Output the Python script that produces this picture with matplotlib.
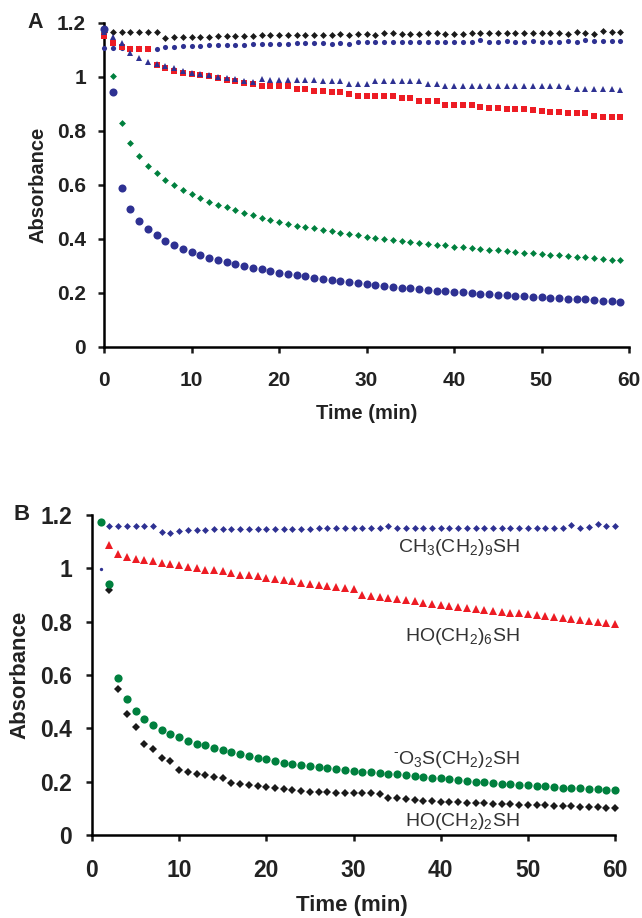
import numpy as np
import matplotlib
matplotlib.use("Agg")
import matplotlib.pyplot as plt

# ── data ──
time_a = list(range(0, 60))
time_b = list(range(1, 61))

# panel A
a_black = [1.168, 1.168, 1.168, 1.168, 1.168, 1.168, 1.168, 1.146, 1.147, 1.148,
           1.148, 1.150, 1.150, 1.151, 1.152, 1.152, 1.153, 1.153, 1.154, 1.154,
           1.155, 1.155, 1.155, 1.156, 1.156, 1.157, 1.157, 1.158, 1.157, 1.158,
           1.158, 1.157, 1.162, 1.162, 1.160, 1.160, 1.160, 1.162, 1.162, 1.160,
           1.160, 1.158, 1.163, 1.162, 1.162, 1.163, 1.162, 1.163, 1.162, 1.162,
           1.163, 1.162, 1.162, 1.160, 1.168, 1.162, 1.160, 1.172, 1.165, 1.165]
a_dots = [1.106, 1.106, 1.108, 1.106, 1.106, 1.105, 1.104, 1.110, 1.112, 1.114,
          1.115, 1.116, 1.117, 1.118, 1.119, 1.120, 1.120, 1.121, 1.122, 1.123,
          1.124, 1.124, 1.125, 1.125, 1.126, 1.126, 1.124, 1.126, 1.123, 1.128,
          1.128, 1.128, 1.129, 1.128, 1.128, 1.129, 1.128, 1.128, 1.129, 1.128,
          1.129, 1.129, 1.129, 1.136, 1.130, 1.129, 1.132, 1.130, 1.130, 1.132,
          1.131, 1.130, 1.131, 1.132, 1.130, 1.136, 1.134, 1.133, 1.134, 1.133]
a_red = [1.152, 1.125, 1.110, 1.105, 1.105, 1.102, 1.044, 1.032, 1.022, 1.016,
         1.010, 1.007, 1.004, 0.995, 0.989, 0.984, 0.979, 0.973, 0.967, 0.966,
         0.966, 0.965, 0.954, 0.954, 0.948, 0.949, 0.946, 0.944, 0.937, 0.930,
         0.930, 0.929, 0.929, 0.929, 0.922, 0.922, 0.911, 0.911, 0.911, 0.896,
         0.896, 0.895, 0.895, 0.888, 0.886, 0.885, 0.883, 0.882, 0.880, 0.878,
         0.874, 0.871, 0.869, 0.866, 0.866, 0.866, 0.856, 0.852, 0.852, 0.852]
a_tri = [1.165, 1.149, 1.127, 1.088, 1.072, 1.057, 1.047, 1.041, 1.032, 1.022,
         1.014, 1.010, 1.007, 1.001, 0.995, 0.992, 0.985, 0.983, 0.992, 0.989,
         0.989, 0.989, 0.989, 0.989, 0.988, 0.985, 0.985, 0.985, 0.975, 0.975,
         0.975, 0.986, 0.985, 0.985, 0.985, 0.985, 0.985, 0.975, 0.975, 0.968,
         0.966, 0.966, 0.966, 0.966, 0.968, 0.966, 0.966, 0.966, 0.966, 0.966,
         0.966, 0.966, 0.965, 0.962, 0.955, 0.955, 0.955, 0.955, 0.955, 0.953]
a_green = [np.nan, 1.004, 0.828, 0.754, 0.707, 0.672, 0.643, 0.619, 0.600, 0.581,
           0.567, 0.551, 0.538, 0.527, 0.517, 0.506, 0.497, 0.489, 0.479, 0.472,
           0.464, 0.457, 0.450, 0.445, 0.439, 0.434, 0.429, 0.424, 0.419, 0.414,
           0.409, 0.405, 0.401, 0.397, 0.393, 0.389, 0.386, 0.382, 0.379, 0.376,
           0.372, 0.369, 0.366, 0.363, 0.360, 0.358, 0.355, 0.352, 0.349, 0.347,
           0.344, 0.342, 0.339, 0.337, 0.334, 0.332, 0.329, 0.327, 0.324, 0.322]
a_big = [1.177, 0.943, 0.590, 0.510, 0.467, 0.436, 0.414, 0.394, 0.378, 0.364,
         0.352, 0.340, 0.331, 0.322, 0.315, 0.306, 0.300, 0.294, 0.288, 0.281,
         0.275, 0.270, 0.265, 0.262, 0.256, 0.251, 0.248, 0.244, 0.240, 0.236,
         0.232, 0.229, 0.226, 0.223, 0.220, 0.217, 0.214, 0.212, 0.209, 0.206,
         0.204, 0.202, 0.200, 0.198, 0.196, 0.194, 0.192, 0.190, 0.188, 0.186,
         0.184, 0.182, 0.181, 0.179, 0.177, 0.176, 0.174, 0.172, 0.170, 0.168]

# panel B
b_decyl = [0.998, 1.160, 1.160, 1.160, 1.160, 1.160, 1.160, 1.138, 1.134, 1.140,
           1.144, 1.145, 1.145, 1.146, 1.146, 1.146, 1.147, 1.147, 1.147, 1.148,
           1.148, 1.148, 1.149, 1.149, 1.149, 1.150, 1.150, 1.150, 1.150, 1.150,
           1.151, 1.151, 1.152, 1.160, 1.152, 1.151, 1.152, 1.151, 1.152, 1.151,
           1.152, 1.151, 1.152, 1.151, 1.152, 1.152, 1.151, 1.152, 1.152, 1.152,
           1.152, 1.153, 1.152, 1.153, 1.162, 1.153, 1.154, 1.168, 1.157, 1.157]
b_hexanol = [np.nan, 1.088, 1.053, 1.041, 1.036, 1.030, 1.026, 1.019, 1.016, 1.011,
             1.005, 1.001, 0.995, 0.993, 0.989, 0.982, 0.976, 0.974, 0.970, 0.964,
             0.960, 0.955, 0.951, 0.945, 0.943, 0.937, 0.935, 0.929, 0.927, 0.922,
             0.899, 0.895, 0.891, 0.888, 0.884, 0.880, 0.876, 0.871, 0.867, 0.863,
             0.858, 0.854, 0.850, 0.846, 0.843, 0.840, 0.837, 0.834, 0.831, 0.827,
             0.824, 0.820, 0.817, 0.813, 0.810, 0.806, 0.803, 0.799, 0.796, 0.792]
b_sulfonate = [1.175, 0.941, 0.588, 0.509, 0.466, 0.435, 0.414, 0.394, 0.379, 0.367,
               0.354, 0.342, 0.336, 0.326, 0.317, 0.311, 0.302, 0.295, 0.290, 0.284,
               0.277, 0.271, 0.268, 0.264, 0.260, 0.256, 0.252, 0.248, 0.245, 0.241,
               0.238, 0.235, 0.232, 0.229, 0.227, 0.224, 0.221, 0.218, 0.215, 0.212,
               0.209, 0.206, 0.203, 0.200, 0.198, 0.196, 0.193, 0.191, 0.189, 0.186,
               0.184, 0.182, 0.180, 0.178, 0.176, 0.175, 0.173, 0.171, 0.170, 0.168]
b_ethanol = [np.nan, 0.918, 0.547, 0.454, 0.404, 0.342, 0.324, 0.290, 0.276, 0.245,
             0.236, 0.230, 0.224, 0.218, 0.212, 0.195, 0.193, 0.189, 0.184, 0.180,
             0.177, 0.172, 0.168, 0.165, 0.163, 0.162, 0.160, 0.159, 0.158, 0.157,
             0.157, 0.156, 0.155, 0.140, 0.137, 0.134, 0.131, 0.129, 0.127, 0.125,
             0.123, 0.122, 0.121, 0.120, 0.119, 0.118, 0.116, 0.115, 0.114, 0.113,
             0.112, 0.111, 0.110, 0.109, 0.108, 0.106, 0.105, 0.104, 0.102, 0.100]

b_labels = [r"CH$_\mathregular{3}$(CH$_\mathregular{2}$)$_\mathregular{9}$SH",
            r"HO(CH$_\mathregular{2}$)$_\mathregular{6}$SH",
            r"$^{\text{-}}$O$_\mathregular{3}$S(CH$_\mathregular{2}$)$_\mathregular{2}$SH",
            r"HO(CH$_\mathregular{2}$)$_\mathregular{2}$SH"]
b_label_y = [1.062, 0.728, 0.266, 0.035]

x_ticks = [0, 10, 20, 30, 40, 50, 60]
y_ticks = [0, 0.2, 0.4, 0.6, 0.8, 1.0, 1.2]
y_tick_labels = ["0", "0.2", "0.4", "0.6", "0.8", "1", "1.2"]

NAVY, RED, GREEN, BLACK = "#2e3192", "#ed1c24", "#00803e", "#1a1a1a"

plt.rcParams.update({
    "font.family": ["Liberation Sans", "DejaVu Sans"],
    "mathtext.fontset": "custom",
    "mathtext.rm": "Liberation Sans",
    "axes.linewidth": 1.8,
})


def style_axes(ax, fs, ypad, xpad):
    ax.set_xlim(0, 60)
    ax.set_ylim(0, 1.2)
    ax.spines["top"].set_visible(False)
    ax.spines["right"].set_visible(False)
    ax.set_xticks(x_ticks)
    ax.set_yticks(y_ticks)
    ax.set_yticklabels(y_tick_labels)
    ax.tick_params(direction="out", length=4.5, width=1.8, color=BLACK)
    ax.tick_params(axis="y", pad=ypad)
    ax.tick_params(axis="x", pad=xpad)
    for lab in ax.get_xticklabels() + ax.get_yticklabels():
        lab.set_fontsize(fs)
        lab.set_fontweight("bold")
        lab.set_color("#222222")


def pts(ax, x, y, marker, color, ms, z=3):
    ax.plot(x, y, linestyle="none", marker=marker, color=color, markersize=ms,
            markeredgewidth=0, clip_on=False, zorder=z)


fig = plt.figure(figsize=(6.42, 9.18), dpi=100)

# ── panel A ──
ax = fig.add_axes([104 / 642, 1 - 347 / 918, 525 / 642, 324 / 918])
style_axes(ax, 15, 8.5, 13)
pts(ax, time_a, a_black, "D", BLACK, 3.5)
pts(ax, time_a, a_dots, "o", NAVY, 3.7)
pts(ax, time_a, a_red, "s", RED, 3.9)
pts(ax, time_a, a_tri, "^", NAVY, 5.0)
pts(ax, time_a, a_green, "D", GREEN, 3.5)
pts(ax, time_a, a_big, "o", NAVY, 5.8)
ax.set_ylabel("Absorbance", fontsize=14.5, fontweight="bold", color="#222222")
ax.set_xlabel("Time (min)", fontsize=14.5, fontweight="bold", color="#222222")
ax.yaxis.set_label_coords(-0.1257, 0.5)
ax.xaxis.set_label_coords(0.501, -0.204)
ax.yaxis.label.set_va("center")
ax.xaxis.label.set_va("center")
fig.text(35 / 642, 1 - 22 / 918, "A", fontsize=15.5, fontweight="bold",
         ha="center", va="center", color="#222222")

# ── panel B ──
bx = fig.add_axes([92 / 642, 1 - 835 / 918, 523 / 642, 320 / 918])
style_axes(bx, 16.5, 10, 13)
pts(bx, time_b[1:], b_decyl[1:], "D", NAVY, 3.5)
pts(bx, time_b[:1], b_decyl[:1], "o", NAVY, 2.4)
pts(bx, time_b, b_hexanol, "^", RED, 5.6)
pts(bx, time_b, b_ethanol, "D", BLACK, 3.8)
pts(bx, time_b, b_sulfonate, "o", GREEN, 5.9)
bx.set_ylabel("Absorbance", fontsize=16, fontweight="bold", color="#222222")
bx.set_xlabel("Time (min)", fontsize=16, fontweight="bold", color="#222222")
bx.yaxis.set_label_coords(-0.1377, 0.5)
bx.xaxis.set_label_coords(0.497, -0.219)
bx.yaxis.label.set_va("center")
bx.xaxis.label.set_va("center")
for lab, yy in zip(b_labels, b_label_y):
    bx.text(49.1, yy, lab, fontsize=14, ha="right", va="baseline", color="#333333")
fig.text(22 / 642, 1 - 515 / 918, "B", fontsize=16, fontweight="bold",
         ha="center", va="center", color="#222222")

fig.savefig("out.png", dpi=100)
